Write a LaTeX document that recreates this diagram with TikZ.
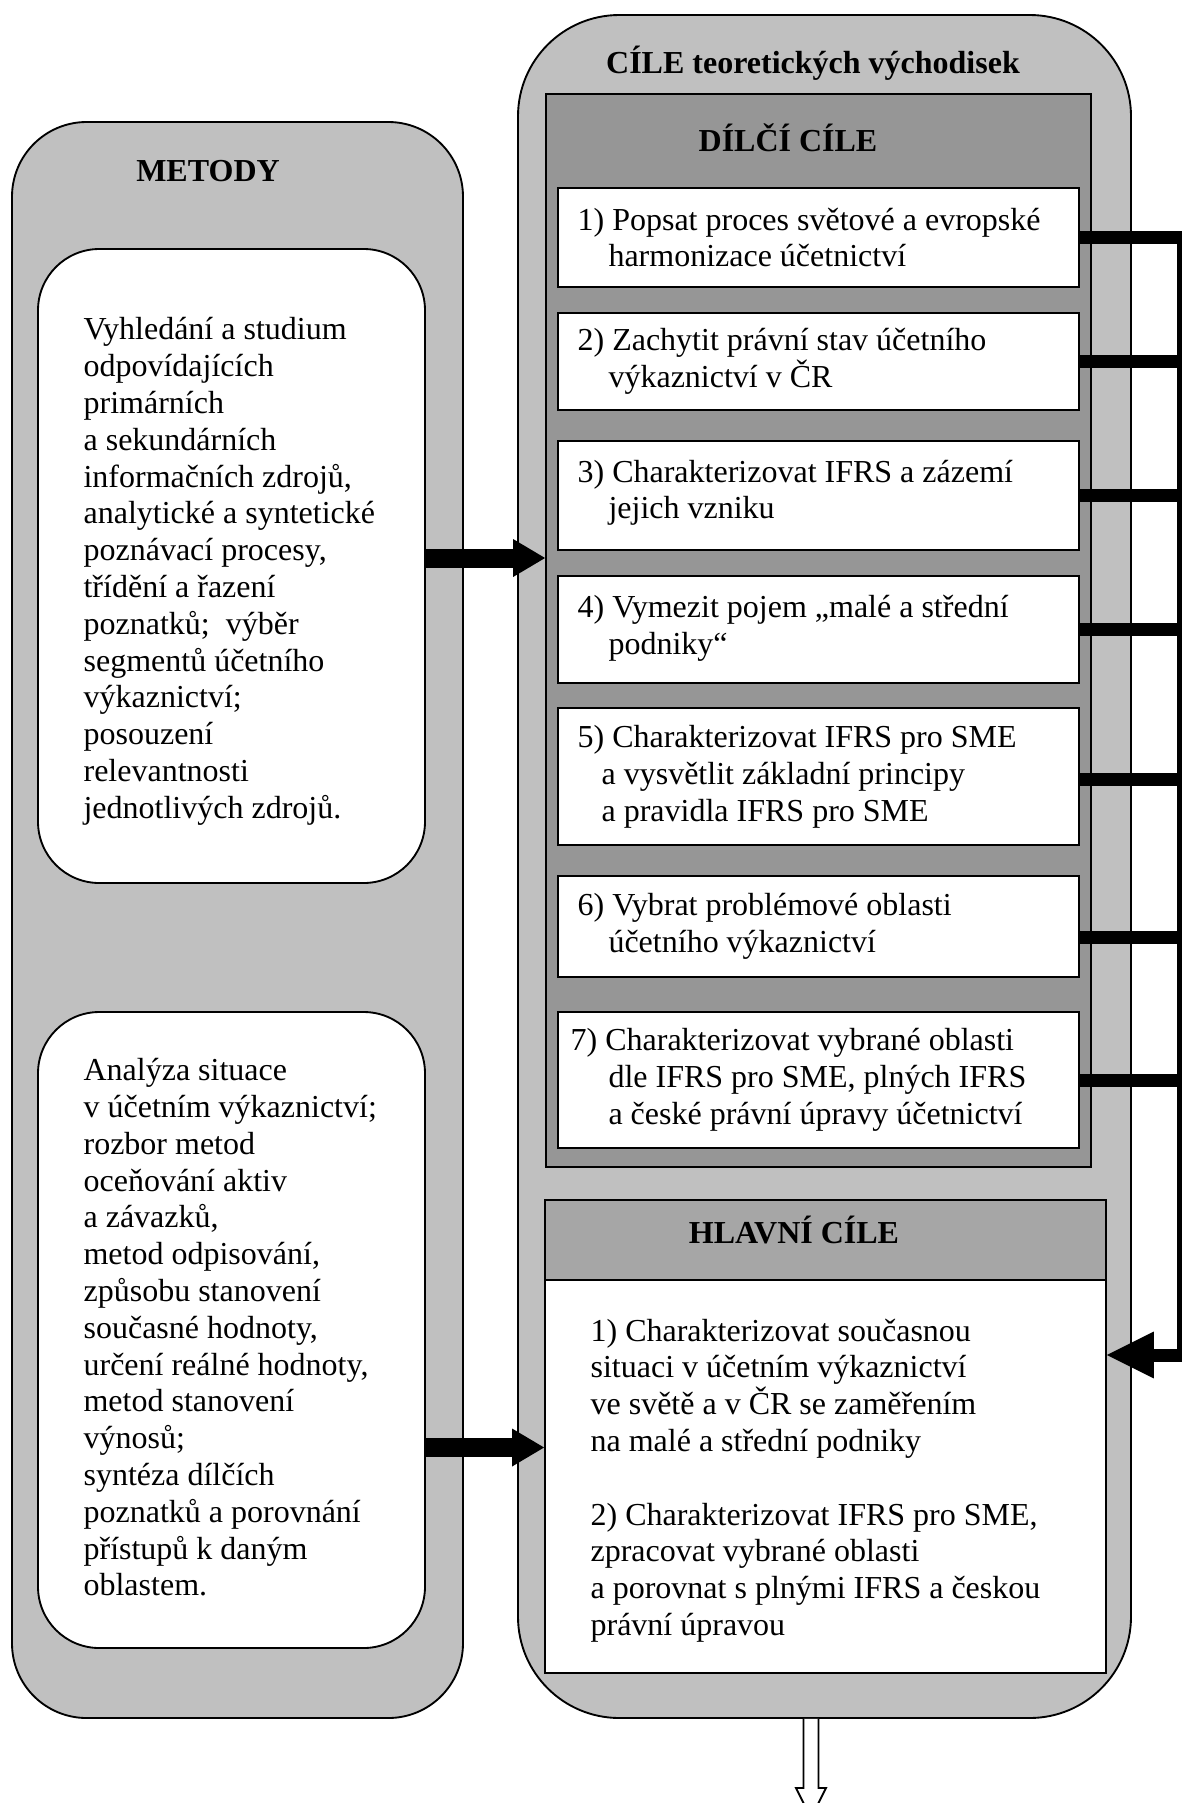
\documentclass[tikz,border=0pt]{standalone}
\usepackage{fontspec}
\setmainfont{Liberation Serif}
\usetikzlibrary{fit,calc,arrows.meta}
\definecolor{outergray}{HTML}{C0C0C0}
\definecolor{framegray}{HTML}{969696}
\definecolor{headgray}{HTML}{A6A6A6}

\begin{document}
\begin{tikzpicture}[x=0.375pt,y=-0.375pt,
  every node/.style={font=\fontsize{12pt}{13.8pt}\selectfont},
  base/.style={draw=black, line width=0.7pt, inner sep=0pt},
  panel/.style={base, fill=outergray},
  card/.style={base, fill=white, rounded corners=23pt},
  goal/.style={base, fill=white},
  txt/.style={anchor=west, align=left, inner sep=0pt},
  heading/.style={inner sep=0pt, font=\fontsize{12pt}{13.8pt}\selectfont\bfseries},
  feed/.style={line width=4.875pt, line join=miter},
  blockarrow/.style={line width=7.125pt, -{Triangle[length=12pt,width=14.25pt,line width=0pt]}},
]
\useasboundingbox (0,0) rectangle (1182,1803);

% ---- left column: methods ----
\node[panel, rounded corners=28pt, fit={(12,122) (463,1718)}] (metody) {};
\node[heading] (metodyT) at (208,171) {METODY};
\node[card, fit={(38,249) (425,883)}] (mA) {};
\node[card, fit={(38,1012) (425,1648)}] (mB) {};
\node[txt] (mAt) at ([xshift=17.25pt,yshift=-2pt]mA.west) {Vyhledání a studium\\odpovídajících\\primárních\\a sekundárních\\informačních zdrojů,\\analytické a syntetické\\poznávací procesy,\\třídění a řazení\\poznatků; \ výběr\\segmentů účetního\\výkaznictví;\\posouzení\\relevantnosti\\jednotlivých zdrojů.};
\node[txt] (mBt) at ([xshift=17.25pt,yshift=1pt]mB.west) {Analýza situace\\v účetním výkaznictví;\\rozbor metod\\oceňování aktiv\\a závazků,\\metod odpisování,\\způsobu stanovení\\současné hodnoty,\\určení reálné hodnoty,\\metod stanovení\\výnosů;\\syntéza dílčích\\poznatků a porovnání\\přístupů k daným\\oblastem.};

% ---- right column: goals ----
\node[panel, rounded corners=38pt, fit={(518,15) (1131,1718)}] (cile) {};
\node[heading] (cileT) at (813,63) {CÍLE teoretických východisek};
\node[base, fill=framegray, fit={(546,94) (1091,1167)}] (dilci) {};
\node[heading] (dilciT) at (788,138) {DÍLČÍ CÍLE};

\node[goal, fit={(558,188) (1079,287)}] (d1) {};
\node[goal, fit={(558,313) (1079,410)}] (d2) {};
\node[goal, fit={(558,441) (1079,550)}] (d3) {};
\node[goal, fit={(558,576) (1079,683)}] (d4) {};
\node[goal, fit={(558,708) (1079,845)}] (d5) {};
\node[goal, fit={(558,876) (1079,977)}] (d6) {};
\node[goal, fit={(558,1012) (1079,1148)}] (d7) {};

\node[txt] (d1t) at ([xshift=7.5pt]d1.west) {1) Popsat proces světové a evropské\\\hspace*{11.6pt}harmonizace účetnictví};
\node[txt] (d2t) at ([xshift=7.5pt]d2.west) {2) Zachytit právní stav účetního\\\hspace*{11.6pt}výkaznictví v ČR};
\node[txt] (d3t) at ([xshift=7.5pt,yshift=1pt]d3.west) {3) Charakterizovat IFRS a zázemí\\\hspace*{11.6pt}jejich vzniku};
\node[txt] (d4t) at ([xshift=7.5pt,yshift=0.5pt]d4.west) {4) Vymezit pojem „malé a střední\\\hspace*{11.6pt}podniky“};
\node[txt] (d5t) at ([xshift=7.5pt]d5.west) {5) Charakterizovat IFRS pro SME\\\hspace*{9pt}a vysvětlit základní principy\\\hspace*{9pt}a pravidla IFRS pro SME};
\node[txt] (d6t) at ([xshift=7.5pt]d6.west) {6) Vybrat problémové oblasti\\\hspace*{11.6pt}účetního výkaznictví};
\node[txt] (d7t) at ([xshift=4.9pt]d7.west) {7) Charakterizovat vybrané oblasti\\\hspace*{14.2pt}dle IFRS pro SME, plných IFRS\\\hspace*{14.2pt}a české právní úpravy účetnictví};

\node[base, fill=headgray, fit={(545,1200) (1106,1280)}] (hlavniH) {};
\node[heading] (hlavniT) at (794,1230) {HLAVNÍ CÍLE};
\node[goal, fit={(545,1280) (1106,1673)}] (hlavni) {};
\node[txt] (ht) at ([xshift=17.25pt,yshift=-1.5pt]hlavni.west) {1) Charakterizovat současnou\\situaci v účetním výkaznictví\\ve světě a v ČR se zaměřením\\na malé a střední podniky\\[13.8pt]2) Charakterizovat IFRS pro SME,\\zpracovat vybrané oblasti\\a porovnat s plnými IFRS a českou\\právní úpravou};

% ---- feedback rail from the partial goals to the main goals ----
\coordinate (rail) at (1183.5,0);
\coordinate (hin) at (hlavni.east |- 0,1355);
\draw[feed, -{Triangle[length=17.6pt,width=17.6pt,line width=0pt]}]
  (d1.east) -- (rail |- d1.east) -- (rail |- hin) -- (hin);
\foreach \b in {d2,d3,d4,d7}
  \draw[feed] (\b.east) -- (rail |- \b.east);
\coordinate (c5) at ([yshift=-1.3pt]d5.east);
\coordinate (c6) at ([yshift=-4.3pt]d6.east);
\draw[feed] (c5) -- (rail |- c5);
\draw[feed] (c6) -- (rail |- c6);

% ---- methods feeding the goals ----
\coordinate (a1) at (mA.east |- 0,558);
\draw[blockarrow] (a1) -- (dilci.west |- a1);
\coordinate (a2) at (mB.east |- 0,1447.5);
\draw[blockarrow] (a2) -- (hlavni.west |- a2);

% ---- hollow outlet arrow ----
\coordinate (out) at (cile.south -| 811,0);
\draw[base, fill=white, line join=miter] ($(out)+(-7.5,0)$) -- ++(0,69) -- ++(-7.5,0)
  -- ++(15,30) -- ++(15,-30) -- ++(-7.5,0) -- ++(0,-69);
\end{tikzpicture}
\end{document}
